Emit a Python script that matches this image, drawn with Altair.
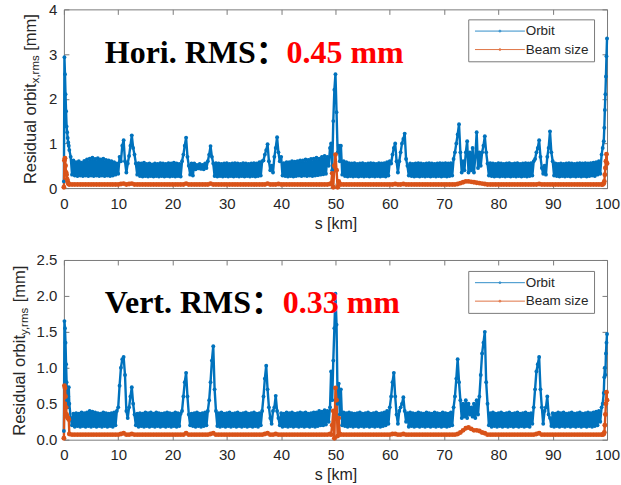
import altair as alt
import pandas as pd

# ---------------- data ----------------
# sampling positions of the orbit curves [km]
S_ORBIT = [
    0.0, 0.1, 0.2, 0.3, 0.4, 0.5, 0.6, 0.7, 0.8, 0.9, 1.0,
    1.25, 1.5, 1.75, 2.0, 2.25, 2.5, 2.75, 3.0, 3.25, 3.5,
    3.75, 4.0, 4.25, 4.5, 4.75, 5.0, 5.25, 5.5, 5.75, 6.0,
    6.25, 6.5, 6.75, 7.0, 7.25, 7.5, 7.75, 8.0, 8.25, 8.5,
    8.75, 9.0, 9.25, 9.5, 9.75, 10.0, 10.25, 10.5, 10.75, 11.0,
    11.25, 11.5, 11.75, 12.0, 12.25, 12.5, 12.75, 13.0, 13.25, 13.5,
    13.75, 14.0, 14.25, 14.5, 14.75, 15.0, 15.25, 15.5, 15.75, 16.0,
    16.25, 16.5, 16.75, 17.0, 17.25, 17.5, 17.75, 18.0, 18.25, 18.5,
    18.75, 19.0, 19.25, 19.5, 19.75, 20.0, 20.25, 20.5, 20.75, 21.0,
    21.25, 21.5, 21.75, 22.0, 22.25, 22.5, 22.75, 23.0, 23.25, 23.5,
    23.75, 24.0, 24.25, 24.5, 24.75, 25.0, 25.25, 25.5, 25.75, 26.0,
    26.25, 26.5, 26.75, 27.0, 27.25, 27.5, 27.75, 28.0, 28.25, 28.5,
    28.75, 29.0, 29.25, 29.5, 29.75, 30.0, 30.25, 30.5, 30.75, 31.0,
    31.25, 31.5, 31.75, 32.0, 32.25, 32.5, 32.75, 33.0, 33.25, 33.5,
    33.75, 34.0, 34.25, 34.5, 34.75, 35.0, 35.25, 35.5, 35.75, 36.0,
    36.25, 36.5, 36.75, 37.0, 37.25, 37.5, 37.75, 38.0, 38.25, 38.5,
    38.75, 39.0, 39.25, 39.5, 39.75, 40.0, 40.25, 40.5, 40.75, 41.0,
    41.25, 41.5, 41.75, 42.0, 42.25, 42.5, 42.75, 43.0, 43.25, 43.5,
    43.75, 44.0, 44.25, 44.5, 44.75, 45.0, 45.25, 45.5, 45.75, 46.0,
    46.25, 46.5, 46.75, 47.0, 47.25, 47.5, 47.75, 48.0, 48.25, 48.5,
    48.75, 49.0,
    49.2, 49.4, 49.6, 49.8, 50.0, 50.2, 50.4, 50.6, 50.8, 51.0,
    51.25, 51.5, 51.75, 52.0, 52.25, 52.5, 52.75, 53.0, 53.25, 53.5,
    53.75, 54.0, 54.25, 54.5, 54.75, 55.0, 55.25, 55.5, 55.75, 56.0,
    56.25, 56.5, 56.75, 57.0, 57.25, 57.5, 57.75, 58.0, 58.25, 58.5,
    58.75, 59.0, 59.25, 59.5, 59.75, 60.0, 60.25, 60.5, 60.75, 61.0,
    61.25, 61.5, 61.75, 62.0, 62.25, 62.5, 62.75, 63.0, 63.25, 63.5,
    63.75, 64.0, 64.25, 64.5, 64.75, 65.0, 65.25, 65.5, 65.75, 66.0,
    66.25, 66.5, 66.75, 67.0, 67.25, 67.5, 67.75, 68.0, 68.25, 68.5,
    68.75, 69.0, 69.25, 69.5, 69.75, 70.0, 70.25, 70.5, 70.75, 71.0,
    71.25, 71.5, 71.75, 72.0, 72.25, 72.5, 72.75, 73.0, 73.25, 73.5,
    73.75, 74.0, 74.25, 74.5, 74.75, 75.0, 75.25, 75.5, 75.75, 76.0,
    76.25, 76.5, 76.75, 77.0, 77.25, 77.5, 77.75, 78.0, 78.25, 78.5,
    78.75, 79.0, 79.25, 79.5, 79.75, 80.0, 80.25, 80.5, 80.75, 81.0,
    81.25, 81.5, 81.75, 82.0, 82.25, 82.5, 82.75, 83.0, 83.25, 83.5,
    83.75, 84.0, 84.25, 84.5, 84.75, 85.0, 85.25, 85.5, 85.75, 86.0,
    86.25, 86.5, 86.75, 87.0, 87.25, 87.5, 87.75, 88.0, 88.25, 88.5,
    88.75, 89.0, 89.25, 89.5, 89.75, 90.0, 90.25, 90.5, 90.75, 91.0,
    91.25, 91.5, 91.75, 92.0, 92.25, 92.5, 92.75, 93.0, 93.25, 93.5,
    93.75, 94.0, 94.25, 94.5, 94.75, 95.0, 95.25, 95.5, 95.75, 96.0,
    96.25, 96.5, 96.75, 97.0, 97.25, 97.5, 97.75, 98.0, 98.25, 98.5,
    98.75, 99.0,
    99.2, 99.4, 99.5, 99.6, 99.7, 99.8, 99.9, 100.0,
]

ORBIT_X = [
    0.15, 2.93, 2.55, 2.1, 1.72, 1.38, 1.25, 1.12, 1.02, 0.95, 0.85,
    0.7, 0.3, 0.62, 0.28, 0.58, 0.27, 0.6, 0.28, 0.57, 0.27,
    0.61, 0.28, 0.64, 0.27, 0.66, 0.28, 0.68, 0.27, 0.65, 0.28,
    0.67, 0.27, 0.64, 0.28, 0.66, 0.27, 0.63, 0.28, 0.62, 0.27,
    0.6, 0.28, 0.58, 0.3, 0.55, 0.32, 0.7, 0.6, 0.95, 1.07,
    0.6, 0.35, 0.55, 0.72, 0.95, 1.18, 0.9, 0.75, 0.55, 0.3,
    0.56, 0.27, 0.55, 0.26, 0.57, 0.27, 0.54, 0.26, 0.55, 0.27,
    0.53, 0.26, 0.55, 0.27, 0.54, 0.26, 0.56, 0.27, 0.55, 0.26,
    0.54, 0.27, 0.56, 0.26, 0.55, 0.27, 0.57, 0.26, 0.55, 0.27,
    0.54, 0.26, 0.6, 0.75, 0.95, 1.13, 0.7, 0.5, 0.3, 0.55,
    0.28, 0.55, 0.42, 0.52, 0.44, 0.54, 0.43, 0.52, 0.42, 0.55,
    0.45, 0.6, 0.75, 0.94, 0.7, 0.55, 0.27, 0.56, 0.26, 0.55,
    0.27, 0.54, 0.26, 0.55, 0.27, 0.56, 0.26, 0.54, 0.27, 0.55,
    0.26, 0.56, 0.27, 0.55, 0.26, 0.54, 0.27, 0.56, 0.26, 0.55,
    0.27, 0.54, 0.26, 0.55, 0.27, 0.56, 0.26, 0.55, 0.27, 0.58,
    0.28, 0.6, 0.62, 0.75, 0.85, 0.98, 0.6, 0.4, 0.5, 0.35,
    0.7, 0.9, 1.14, 0.8, 0.6, 0.7, 0.28, 0.56, 0.27, 0.58,
    0.26, 0.58, 0.27, 0.6, 0.26, 0.59, 0.27, 0.6, 0.28, 0.62,
    0.27, 0.62, 0.28, 0.64, 0.27, 0.63, 0.28, 0.65, 0.27, 0.66,
    0.28, 0.68, 0.29, 0.66, 0.3, 0.7, 0.31, 0.72, 0.32, 0.7,
    0.5, 0.9,
    1.0, 0.4, 1.5, 2.2, 2.55, 1.7, 0.8, 0.95, 0.6, 0.95,
    0.3, 0.6, 0.27, 0.58, 0.26, 0.56, 0.27, 0.55, 0.26, 0.56,
    0.27, 0.54, 0.26, 0.55, 0.27, 0.56, 0.26, 0.54, 0.27, 0.55,
    0.26, 0.56, 0.27, 0.55, 0.26, 0.54, 0.27, 0.56, 0.26, 0.55,
    0.27, 0.56, 0.26, 0.58, 0.28, 0.6, 0.55, 0.75, 0.9, 1.0,
    0.6, 0.35, 0.6, 0.8, 1.0, 1.1, 1.22, 0.65, 0.5, 0.28,
    0.55, 0.27, 0.54, 0.26, 0.55, 0.27, 0.56, 0.26, 0.55, 0.27,
    0.54, 0.26, 0.55, 0.27, 0.56, 0.26, 0.55, 0.27, 0.54, 0.26,
    0.55, 0.27, 0.56, 0.26, 0.55, 0.27, 0.56, 0.26, 0.55, 0.27,
    0.56, 0.28, 0.65, 0.8, 1.0, 1.2, 1.43, 0.8, 0.35, 0.6,
    0.4, 0.8, 1.05, 0.35, 0.8, 0.4, 0.9, 0.35, 0.7, 1.25,
    0.45, 0.8, 0.5, 0.8, 0.95, 1.16, 0.8, 0.55, 0.28, 0.56,
    0.27, 0.55, 0.26, 0.54, 0.27, 0.56, 0.26, 0.55, 0.27, 0.54,
    0.26, 0.55, 0.27, 0.56, 0.26, 0.54, 0.27, 0.55, 0.26, 0.56,
    0.27, 0.54, 0.26, 0.55, 0.27, 0.56, 0.26, 0.55, 0.27, 0.56,
    0.28, 0.6, 0.65, 0.8, 0.9, 1.07, 0.7, 0.45, 0.32, 0.5,
    0.3, 0.7, 0.9, 1.27, 0.8, 0.6, 0.28, 0.55, 0.27, 0.54,
    0.26, 0.55, 0.27, 0.54, 0.26, 0.55, 0.27, 0.56, 0.26, 0.55,
    0.27, 0.54, 0.26, 0.55, 0.27, 0.56, 0.26, 0.55, 0.27, 0.56,
    0.26, 0.55, 0.27, 0.56, 0.28, 0.57, 0.27, 0.58, 0.3, 0.6,
    0.32, 0.75,
    0.9, 1.05, 1.35, 1.75, 2.1, 2.5, 2.95, 3.35,
]

ORBIT_Y = [
    0.12, 1.65, 1.55, 1.35, 1.05, 0.8, 0.55, 0.45, 0.6, 0.73, 0.5,
    0.3, 0.2, 0.36, 0.18, 0.37, 0.19, 0.36, 0.18, 0.38, 0.19,
    0.37, 0.18, 0.38, 0.19, 0.4, 0.18, 0.39, 0.19, 0.38, 0.18,
    0.37, 0.19, 0.36, 0.18, 0.38, 0.19, 0.37, 0.18, 0.36, 0.19,
    0.37, 0.18, 0.38, 0.2, 0.4, 0.45, 0.75, 1.0, 1.12, 1.15,
    0.9, 0.4, 0.3, 0.45, 0.6, 0.73, 0.5, 0.35, 0.2, 0.36,
    0.18, 0.37, 0.19, 0.36, 0.18, 0.38, 0.19, 0.37, 0.18, 0.38,
    0.19, 0.36, 0.18, 0.38, 0.19, 0.37, 0.18, 0.36, 0.19, 0.37,
    0.18, 0.38, 0.19, 0.37, 0.18, 0.36, 0.19, 0.38, 0.18, 0.37,
    0.19, 0.36, 0.4, 0.6, 0.8, 0.93, 0.6, 0.35, 0.2, 0.36,
    0.19, 0.37, 0.18, 0.38, 0.19, 0.36, 0.18, 0.37, 0.19, 0.38,
    0.2, 0.4, 0.55, 0.8, 1.1, 1.3, 0.7, 0.4, 0.19, 0.37,
    0.18, 0.38, 0.19, 0.36, 0.18, 0.37, 0.19, 0.38, 0.18, 0.36,
    0.19, 0.37, 0.18, 0.38, 0.19, 0.36, 0.18, 0.37, 0.19, 0.38,
    0.18, 0.36, 0.19, 0.37, 0.18, 0.38, 0.19, 0.36, 0.18, 0.37,
    0.2, 0.4, 0.6, 0.85, 1.03, 0.7, 0.45, 0.3, 0.22, 0.4,
    0.45, 0.61, 0.4, 0.3, 0.2, 0.37, 0.18, 0.36, 0.19, 0.38,
    0.18, 0.37, 0.19, 0.38, 0.18, 0.36, 0.19, 0.37, 0.18, 0.38,
    0.19, 0.37, 0.18, 0.38, 0.19, 0.36, 0.18, 0.37, 0.19, 0.38,
    0.18, 0.38, 0.19, 0.4, 0.2, 0.39, 0.2, 0.41, 0.21, 0.4,
    0.25, 0.45,
    0.95, 0.55, 1.1, 1.55, 2.03, 1.6, 0.5, 0.78, 0.35, 0.7,
    0.2, 0.38, 0.19, 0.37, 0.18, 0.38, 0.19, 0.37, 0.18, 0.36,
    0.19, 0.37, 0.18, 0.38, 0.19, 0.36, 0.18, 0.37, 0.19, 0.38,
    0.18, 0.36, 0.19, 0.37, 0.18, 0.38, 0.19, 0.36, 0.18, 0.37,
    0.19, 0.38, 0.2, 0.4, 0.22, 0.45, 0.6, 0.8, 0.93, 0.6,
    0.35, 0.22, 0.4, 0.45, 0.5, 0.59, 0.4, 0.25, 0.37, 0.18,
    0.38, 0.19, 0.37, 0.18, 0.36, 0.19, 0.38, 0.18, 0.37, 0.19,
    0.36, 0.18, 0.38, 0.19, 0.37, 0.18, 0.36, 0.19, 0.38, 0.18,
    0.37, 0.19, 0.36, 0.18, 0.38, 0.19, 0.37, 0.18, 0.36, 0.19,
    0.38, 0.2, 0.45, 0.6, 0.85, 1.12, 0.8, 0.55, 0.3, 0.5,
    0.32, 0.55, 0.3, 0.5, 0.35, 0.45, 0.32, 0.5, 0.3, 0.55,
    0.35, 0.6, 0.9, 1.2, 1.35, 1.5, 0.8, 0.5, 0.2, 0.37,
    0.18, 0.38, 0.19, 0.36, 0.18, 0.37, 0.19, 0.38, 0.18, 0.36,
    0.19, 0.37, 0.18, 0.38, 0.19, 0.36, 0.18, 0.37, 0.19, 0.38,
    0.18, 0.36, 0.19, 0.37, 0.18, 0.38, 0.19, 0.36, 0.18, 0.37,
    0.22, 0.45, 0.7, 0.95, 1.05, 1.15, 0.7, 0.45, 0.22, 0.4,
    0.45, 0.6, 0.35, 0.3, 0.19, 0.37, 0.18, 0.36, 0.19, 0.38,
    0.18, 0.37, 0.19, 0.38, 0.18, 0.36, 0.19, 0.37, 0.18, 0.38,
    0.19, 0.36, 0.18, 0.37, 0.19, 0.38, 0.18, 0.36, 0.19, 0.37,
    0.18, 0.38, 0.19, 0.37, 0.18, 0.38, 0.19, 0.39, 0.2, 0.4,
    0.25, 0.45,
    0.5, 0.65, 0.87, 1.0, 0.9, 1.2, 1.35, 1.47,
]

# sampling positions of the beam-size curves [km]
S_BEAM = [
    0.0, 0.1, 0.2, 0.3, 0.4, 0.5, 0.6, 0.7, 0.8, 0.9, 1.0,
    1.5, 2.0, 2.5, 3.0, 3.5, 4.0, 4.5, 5.0, 5.5, 6.0,
    6.5, 7.0, 7.5, 8.0, 8.5, 9.0, 9.5, 10.0, 10.5, 11.0,
    11.5, 12.0, 12.5, 13.0, 13.5, 14.0, 14.5, 15.0, 15.5, 16.0,
    16.5, 17.0, 17.5, 18.0, 18.5, 19.0, 19.5, 20.0, 20.5, 21.0,
    21.5, 22.0, 22.5, 23.0, 23.5, 24.0, 24.5, 25.0, 25.5, 26.0,
    26.5, 27.0, 27.5, 28.0, 28.5, 29.0, 29.5, 30.0, 30.5, 31.0,
    31.5, 32.0, 32.5, 33.0, 33.5, 34.0, 34.5, 35.0, 35.5, 36.0,
    36.5, 37.0, 37.5, 38.0, 38.5, 39.0, 39.5, 40.0, 40.5, 41.0,
    41.5, 42.0, 42.5, 43.0, 43.5, 44.0, 44.5, 45.0, 45.5, 46.0,
    46.5, 47.0, 47.5, 48.0, 48.5, 49.0,
    49.2, 49.4, 49.6, 49.8, 50.0, 50.2, 50.4, 50.6, 50.8, 51.0,
    51.5, 52.0, 52.5, 53.0, 53.5, 54.0, 54.5, 55.0, 55.5, 56.0,
    56.5, 57.0, 57.5, 58.0, 58.5, 59.0, 59.5, 60.0, 60.5, 61.0,
    61.5, 62.0, 62.5, 63.0, 63.5, 64.0, 64.5, 65.0, 65.5, 66.0,
    66.5, 67.0, 67.5, 68.0, 68.5, 69.0, 69.5, 70.0, 70.5, 71.0,
    71.5, 72.0, 72.5, 73.0, 73.5, 74.0, 74.5, 75.0, 75.5, 76.0,
    76.5, 77.0, 77.5, 78.0, 78.5, 79.0, 79.5, 80.0, 80.5, 81.0,
    81.5, 82.0, 82.5, 83.0, 83.5, 84.0, 84.5, 85.0, 85.5, 86.0,
    86.5, 87.0, 87.5, 88.0, 88.5, 89.0, 89.5, 90.0, 90.5, 91.0,
    91.5, 92.0, 92.5, 93.0, 93.5, 94.0, 94.5, 95.0, 95.5, 96.0,
    96.5, 97.0, 97.5, 98.0, 98.5, 99.0,
    99.2, 99.4, 99.5, 99.6, 99.7, 99.8, 99.9, 100.0,
]

BEAM_X = [
    0.02, 0.62, 0.67, 0.5, 0.35, 0.3, 0.2, 0.15, 0.1, 0.09, 0.08,
    0.08, 0.08, 0.08, 0.08, 0.08, 0.08, 0.08, 0.08, 0.08, 0.08,
    0.08, 0.08, 0.08, 0.08, 0.08, 0.08, 0.08, 0.08, 0.09, 0.1,
    0.08, 0.09, 0.1, 0.08, 0.08, 0.08, 0.08, 0.08, 0.08, 0.08,
    0.08, 0.08, 0.08, 0.08, 0.08, 0.08, 0.08, 0.08, 0.08, 0.08,
    0.08, 0.08, 0.1, 0.08, 0.08, 0.08, 0.08, 0.08, 0.08, 0.08,
    0.08, 0.1, 0.08, 0.08, 0.08, 0.08, 0.08, 0.08, 0.08, 0.08,
    0.08, 0.08, 0.08, 0.08, 0.08, 0.08, 0.08, 0.08, 0.08, 0.08,
    0.08, 0.08, 0.1, 0.08, 0.08, 0.08, 0.09, 0.08, 0.08, 0.08,
    0.08, 0.08, 0.08, 0.08, 0.08, 0.08, 0.08, 0.08, 0.08, 0.08,
    0.08, 0.08, 0.08, 0.08, 0.08, 0.09,
    0.1, 0.33, 0.02, 0.5, 0.75, 0.4, 0.02, 0.15, 0.09, 0.08,
    0.08, 0.08, 0.08, 0.08, 0.08, 0.08, 0.08, 0.08, 0.08, 0.08,
    0.08, 0.08, 0.08, 0.08, 0.08, 0.08, 0.08, 0.08, 0.08, 0.09,
    0.08, 0.08, 0.09, 0.08, 0.08, 0.08, 0.08, 0.08, 0.08, 0.08,
    0.08, 0.08, 0.08, 0.08, 0.08, 0.08, 0.08, 0.08, 0.08, 0.08,
    0.08, 0.08, 0.09, 0.11, 0.13, 0.15, 0.15, 0.14, 0.13, 0.12,
    0.11, 0.1, 0.09, 0.08, 0.08, 0.08, 0.08, 0.08, 0.08, 0.08,
    0.08, 0.08, 0.08, 0.08, 0.08, 0.08, 0.08, 0.08, 0.08, 0.08,
    0.08, 0.08, 0.09, 0.08, 0.08, 0.08, 0.08, 0.08, 0.08, 0.08,
    0.08, 0.08, 0.08, 0.08, 0.08, 0.08, 0.08, 0.08, 0.08, 0.08,
    0.08, 0.08, 0.08, 0.08, 0.08, 0.08,
    0.08, 0.1, 0.15, 0.3, 0.45, 0.6, 0.76, 0.55,
]

BEAM_Y = [
    0.02, 0.75, 0.72, 0.6, 0.45, 0.35, 0.32, 0.3, 0.3, 0.28, 0.08,
    0.07, 0.07, 0.07, 0.07, 0.07, 0.07, 0.07, 0.07, 0.07, 0.07,
    0.07, 0.07, 0.07, 0.07, 0.07, 0.07, 0.07, 0.07, 0.08, 0.09,
    0.07, 0.07, 0.08, 0.07, 0.07, 0.07, 0.07, 0.07, 0.07, 0.07,
    0.07, 0.07, 0.07, 0.07, 0.07, 0.07, 0.07, 0.07, 0.07, 0.07,
    0.07, 0.07, 0.09, 0.07, 0.07, 0.07, 0.07, 0.07, 0.07, 0.07,
    0.07, 0.08, 0.09, 0.07, 0.07, 0.07, 0.07, 0.07, 0.07, 0.07,
    0.07, 0.07, 0.07, 0.07, 0.07, 0.07, 0.07, 0.07, 0.07, 0.07,
    0.07, 0.08, 0.09, 0.07, 0.07, 0.08, 0.07, 0.07, 0.07, 0.07,
    0.07, 0.07, 0.07, 0.07, 0.07, 0.07, 0.07, 0.07, 0.07, 0.07,
    0.07, 0.07, 0.07, 0.07, 0.07, 0.08,
    0.07, 0.2, 0.4, 0.02, 0.72, 0.55, 0.05, 0.3, 0.08, 0.07,
    0.07, 0.07, 0.07, 0.07, 0.07, 0.07, 0.07, 0.07, 0.07, 0.07,
    0.07, 0.07, 0.07, 0.07, 0.07, 0.07, 0.07, 0.07, 0.08, 0.08,
    0.07, 0.07, 0.08, 0.07, 0.07, 0.07, 0.07, 0.07, 0.07, 0.07,
    0.07, 0.07, 0.07, 0.07, 0.07, 0.07, 0.07, 0.07, 0.07, 0.07,
    0.07, 0.07, 0.08, 0.1, 0.13, 0.16, 0.17, 0.15, 0.13, 0.13,
    0.12, 0.1, 0.09, 0.07, 0.07, 0.07, 0.07, 0.07, 0.07, 0.07,
    0.07, 0.07, 0.07, 0.07, 0.07, 0.07, 0.07, 0.07, 0.07, 0.07,
    0.07, 0.08, 0.09, 0.07, 0.07, 0.07, 0.07, 0.07, 0.07, 0.07,
    0.07, 0.07, 0.07, 0.07, 0.07, 0.07, 0.07, 0.07, 0.07, 0.07,
    0.07, 0.07, 0.07, 0.07, 0.07, 0.07,
    0.07, 0.08, 0.1, 0.2, 0.35, 0.5, 0.66, 0.55,
]

SERIES = ["Orbit", "Beam size"]
COLORS = ["#0072BD", "#D95319"]
X_TICKS = [0, 10, 20, 30, 40, 50, 60, 70, 80, 90, 100]
Y_TICKS_H = [0, 1, 2, 3, 4]
Y_TICKS_V = [0, 0.5, 1, 1.5, 2, 2.5]

ANN_H_TEXT = ["Hori. RMS：", "0.45 mm"]
ANN_H_S = [7.54, 41.0]
ANN_H_V = [2.80, 2.80]
ANN_V_TEXT = ["Vert. RMS：", "0.33 mm"]
ANN_V_S = [7.54, 40.3]
ANN_V_V = [1.768, 1.768]
ANN_COLORS = ["#000000", "#FF0000"]

# ---------------- styling ----------------
AX_COLOR = "#7a7a7a"
TXT_COLOR = "#262626"
SANS = "Liberation Sans"
LEG_PATH = ("M-1,0L9,0"
            "M4.2,0A0.2,0.2,0,1,0,3.8,0A0.2,0.2,0,1,0,4.2,0"
            "M4.05,0A0.05,0.05,0,1,0,3.95,0A0.05,0.05,0,1,0,4.05,0")


def vtext(txt, xpx, ypx, size):
    return alt.Chart(pd.DataFrame({"t": [txt]})).mark_text(
        angle=270, align="left", baseline="alphabetic", font=SANS,
        fontSize=size, color=TXT_COLOR,
    ).encode(x=alt.value(xpx), y=alt.value(ypx), text="t:N")


def panel(orbit, beam, ymax, yticks, sub, ann_text, ann_s, ann_v, title_dx, height, leg_y):
    assert len(orbit) == len(S_ORBIT) and len(beam) == len(S_BEAM)
    df = pd.DataFrame({
        "s": S_ORBIT + S_BEAM,
        "v": orbit + beam,
        "series": [SERIES[0]] * len(S_ORBIT) + [SERIES[1]] * len(S_BEAM),
    })
    xs = alt.Scale(domain=[0, 100], nice=False, zero=False)
    ys = alt.Scale(domain=[0, ymax], nice=False, zero=False)
    base = alt.Chart(df)

    lines = base.mark_line(strokeWidth=2.4, strokeJoin="round").encode(
        x=alt.X("s:Q", scale=xs, axis=alt.Axis(
            orient="bottom", values=X_TICKS, title="s [km]", grid=False, domain=False,
            tickSize=5, offset=-5, labelPadding=8, titlePadding=4, labelFlush=False,
            tickColor=AX_COLOR, labelColor=TXT_COLOR, titleColor=TXT_COLOR,
            labelFont=SANS, titleFont=SANS, labelFontSize=15, titleFontSize=16,
            titleFontWeight="normal")),
        y=alt.Y("v:Q", scale=ys, axis=alt.Axis(
            orient="left", values=yticks, title=None, grid=False, domain=False,
            tickSize=5, offset=-5, labelPadding=7, labelFlush=False,
            tickColor=AX_COLOR, labelColor=TXT_COLOR, labelFont=SANS, labelFontSize=15)),
        color=alt.Color("series:N", scale=alt.Scale(domain=SERIES, range=COLORS),
                        legend=alt.Legend(
                            orient="none", legendX=405, legendY=leg_y, title=None,
                            symbolType=LEG_PATH, symbolSize=100, symbolStrokeWidth=1,
                            labelOffset=39, labelFont=SANS, labelFontSize=13.5,
                            labelColor=TXT_COLOR, strokeColor=AX_COLOR, fillColor="white",
                            padding=5, rowPadding=3.5, symbolOpacity=0.8)),
        order="s:Q",
    )
    pts_o = base.transform_filter(alt.datum.series == SERIES[0]).mark_circle(
        size=15, color=COLORS[0], opacity=1
    ).encode(
        x=alt.X("s:Q", scale=xs, axis=alt.Axis(
            orient="top", values=X_TICKS, labels=False, title=None, grid=False,
            domain=False, tickSize=5, offset=-5, tickColor=AX_COLOR)),
        y=alt.Y("v:Q", scale=ys, axis=alt.Axis(
            orient="right", values=yticks, labels=False, title=None, grid=False,
            domain=False, tickSize=5, offset=-5, tickColor=AX_COLOR)),
    )
    pts_b = base.transform_filter(alt.datum.series == SERIES[1]).mark_circle(
        size=24, color=COLORS[1], opacity=1
    ).encode(
        x=alt.X("s:Q", scale=xs, axis=None),
        y=alt.Y("v:Q", scale=ys, axis=None),
    )
    ann_df = pd.DataFrame({"s": ann_s, "v": ann_v, "t": ann_text, "c": ANN_COLORS})
    ann = alt.Chart(ann_df).mark_text(
        align="left", baseline="alphabetic", font="Liberation Serif, Noto Sans CJK SC",
        fontWeight="bold", fontSize=32,
    ).encode(
        x=alt.X("s:Q", scale=xs, axis=None),
        y=alt.Y("v:Q", scale=ys, axis=None),
        text="t:N",
        color=alt.Color("c:N", scale=None, legend=None),
    )
    y0 = height - 4
    w_main = 100.9
    w_sub = 28.1
    titles = [
        vtext("Residual orbit", title_dx, y0, 16.5),
        vtext(sub, title_dx + 3, y0 - w_main, 11.5),
        vtext("[mm]", title_dx, y0 - w_main - w_sub - 4.6, 16.5),
    ]
    return alt.layer(lines, pts_o, pts_b, ann, *titles).resolve_axis(
        x="independent", y="independent"
    ).properties(width=544, height=height)


top = panel(ORBIT_X, BEAM_X, 4, Y_TICKS_H, "x,rms", ANN_H_TEXT, ANN_H_S, ANN_H_V, -28, 179, 10)
bottom = panel(ORBIT_Y, BEAM_Y, 2.5, Y_TICKS_V, "y,rms", ANN_V_TEXT, ANN_V_S, ANN_V_V, -39, 180, 11)

chart = alt.vconcat(top, bottom, spacing=20).resolve_scale(
    x="independent", y="independent", color="independent"
).resolve_legend(color="independent").properties(
    padding={"left": 11, "top": 1, "right": 0, "bottom": 0},
    background="white",
).configure_view(stroke=AX_COLOR, strokeWidth=1)

chart.save("out.html", embed_options={"renderer": "svg", "actions": False})
